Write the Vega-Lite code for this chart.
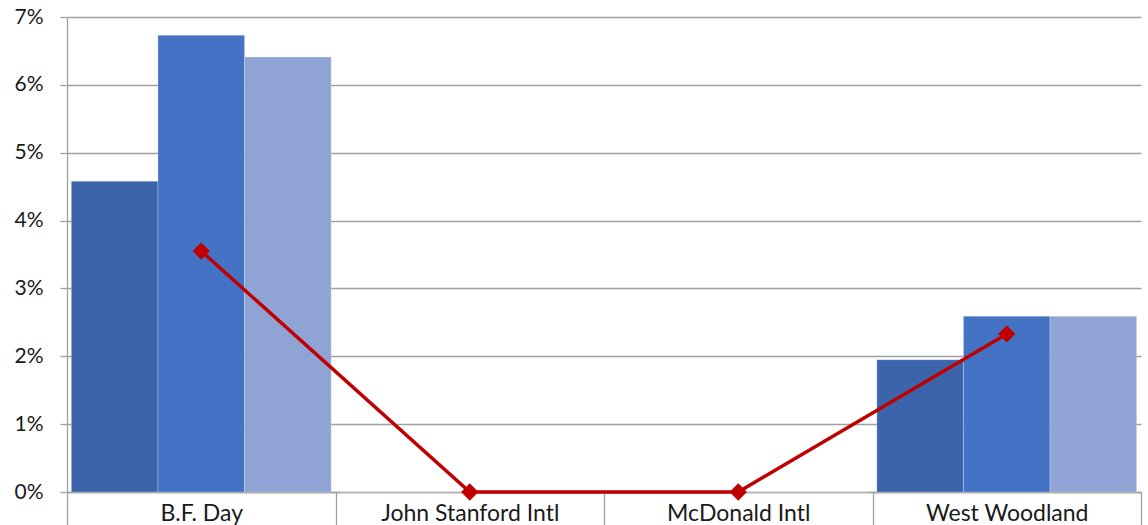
{
  "$schema": "https://vega.github.io/schema/vega-lite/v6.json",
  "width": 1074,
  "height": 475,
  "autosize": {"type": "none"},
  "padding": {"left": 67, "top": 17, "right": 7, "bottom": 33},
  "background": "white",
  "config": {
    "view": {"stroke": null},
    "font": "Lato",
    "axis": {"labelFont": "Lato", "labelFontSize": 21, "labelColor": "#1a1a1a", "domainColor": "#a0a0a0", "tickColor": "#a0a0a0", "gridColor": "#a0a0a0", "gridWidth": 1.3, "domainWidth": 1.3, "tickWidth": 1.3}
  },
  "datasets": {
    "bars": [
      {"school": "B.F. Day", "series": "A", "value": 0.0458},
      {"school": "B.F. Day", "series": "B", "value": 0.0673},
      {"school": "B.F. Day", "series": "C", "value": 0.0641},
      {"school": "John Stanford Intl", "series": "A", "value": 0},
      {"school": "John Stanford Intl", "series": "B", "value": 0},
      {"school": "John Stanford Intl", "series": "C", "value": 0},
      {"school": "McDonald Intl", "series": "A", "value": 0},
      {"school": "McDonald Intl", "series": "B", "value": 0},
      {"school": "McDonald Intl", "series": "C", "value": 0},
      {"school": "West Woodland", "series": "A", "value": 0.0195},
      {"school": "West Woodland", "series": "B", "value": 0.0259},
      {"school": "West Woodland", "series": "C", "value": 0.0259}
    ],
    "line": [
      {"school": "B.F. Day", "value": 0.0355},
      {"school": "John Stanford Intl", "value": 0},
      {"school": "McDonald Intl", "value": 0},
      {"school": "West Woodland", "value": 0.0233}
    ]
  },
  "encoding": {
    "x": {
      "field": "school", "type": "nominal", "sort": null,
      "scale": {"paddingInner": 0, "paddingOuter": 0},
      "axis": {"title": null, "labelAngle": 0, "tickBand": "extent", "tickSize": 33, "labelPadding": -23, "labelBaseline": "top", "labelFontSize": 23, "grid": false}
    },
    "y": {
      "field": "value", "type": "quantitative",
      "scale": {"domain": [0, 0.07], "nice": false},
      "axis": {"title": null, "format": ".0%", "values": [0, 0.01, 0.02, 0.03, 0.04, 0.05, 0.06, 0.07], "tickSize": 7, "labelPadding": 17, "grid": true}
    }
  },
  "layer": [
    {
      "data": {"name": "bars"},
      "mark": {"type": "bar", "stroke": "#ffffff", "strokeOpacity": 0.25, "strokeWidth": 1},
      "encoding": {
        "xOffset": {"field": "series", "type": "nominal", "scale": {"paddingInner": 0, "paddingOuter": 0.05}},
        "color": {"field": "series", "type": "nominal", "scale": {"domain": ["A", "B", "C"], "range": ["#3c64aa", "#4472c4", "#8fa3d4"]}, "legend": null}
      }
    },
    {
      "data": {"name": "line"},
      "mark": {"type": "line", "color": "#c00000", "strokeWidth": 3.5, "point": {"shape": "diamond", "size": 300, "filled": true, "color": "#c00000"}},
      "encoding": {}
    }
  ]
}
